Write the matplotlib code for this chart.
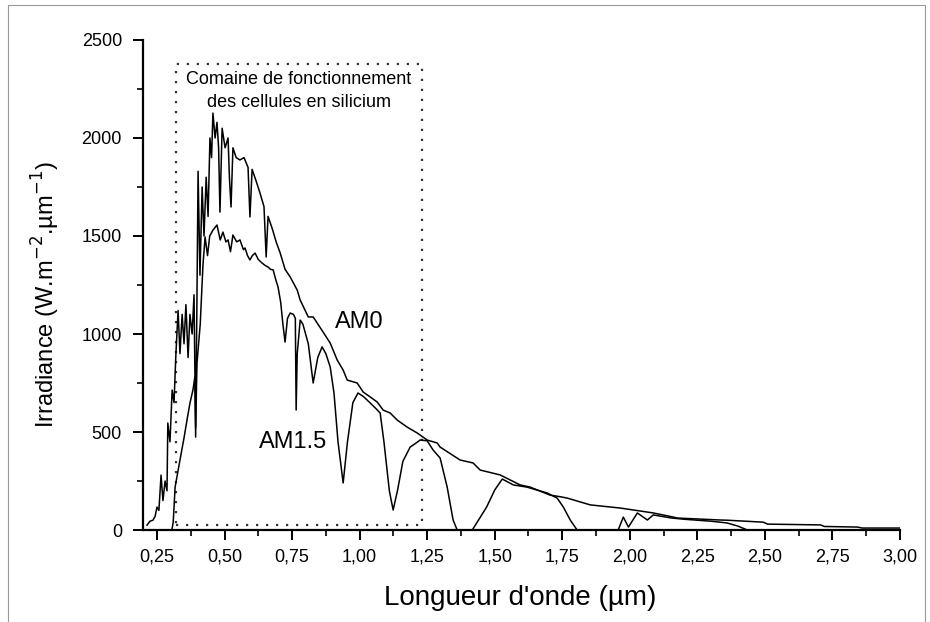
import matplotlib
matplotlib.use("Agg")
import matplotlib.pyplot as plt
from matplotlib.patches import Rectangle
from matplotlib.ticker import MultipleLocator, FuncFormatter

plt.rcParams['font.family'] = ['Liberation Sans', 'DejaVu Sans']

# AM0 spectrum (wavelength in um, irradiance in W.m-2.um-1)
am0_lam = [0.213, 0.224, 0.235, 0.243, 0.25, 0.257, 0.265, 0.272, 0.28, 0.287,
           0.29, 0.298, 0.306, 0.313, 0.32, 0.328, 0.335, 0.343, 0.35, 0.357,
           0.365, 0.372, 0.38, 0.387, 0.393, 0.398, 0.402, 0.409, 0.417, 0.424,
           0.432, 0.439, 0.446, 0.452, 0.457, 0.465, 0.472, 0.478, 0.483, 0.491,
           0.502, 0.513, 0.518, 0.524, 0.531, 0.543, 0.557, 0.572, 0.587, 0.594,
           0.602, 0.617, 0.631, 0.646, 0.654, 0.661, 0.676, 0.691, 0.706, 0.724,
           0.743, 0.769, 0.78, 0.81, 0.828, 0.86, 0.891, 0.917, 0.939, 0.954,
           0.991, 1.013, 1.039, 1.065, 1.087, 1.113, 1.139, 1.176, 1.213, 1.25,
           1.287, 1.298, 1.335, 1.372, 1.42, 1.446, 1.52, 1.594, 1.631, 1.705,
           1.742, 1.768, 1.854, 1.965, 2.087, 2.161, 2.176, 2.335, 2.36, 2.494,
           2.51, 2.706, 2.72, 2.843, 2.86, 3.0]
am0_irr = [25, 45, 50, 70, 117, 100, 280, 150, 250, 200,
           546, 450, 714, 650, 900, 1120, 900, 1100, 950, 1150,
           880, 1100, 1000, 1200, 474, 1200, 1830, 1300, 1750, 1500,
           1800, 1600, 2000, 1900, 2127, 2000, 2080, 1950, 1622, 2050,
           1950, 2000, 1800, 1648, 1950, 1900, 1888, 1900, 1850, 1597,
           1840, 1780, 1720, 1650, 1393, 1600, 1540, 1470, 1413, 1330,
           1291, 1224, 1173, 1087, 1087, 1020, 954, 867, 816, 765,
           750, 704, 679, 653, 612, 597, 561, 525, 495, 459,
           444, 423, 390, 357, 342, 306, 281, 230, 219, 178,
           170, 163, 128, 112, 87, 66, 61, 51, 50, 40,
           30, 26, 18, 15, 10, 10]

# AM1.5 spectrum
am15_lam = [0.305, 0.31, 0.317, 0.335, 0.35, 0.361, 0.372, 0.383, 0.39, 0.393,
            0.398, 0.41, 0.42, 0.428, 0.437, 0.445, 0.457, 0.472, 0.484, 0.494,
            0.505, 0.513, 0.522, 0.531, 0.545, 0.557, 0.57, 0.576, 0.585, 0.594,
            0.603, 0.613, 0.625, 0.639, 0.65, 0.661, 0.67, 0.68, 0.69, 0.698,
            0.708, 0.716, 0.724, 0.733, 0.743, 0.755, 0.762, 0.765, 0.769, 0.78,
            0.79, 0.81, 0.828, 0.845, 0.861, 0.875, 0.891, 0.905, 0.92, 0.939,
            0.955, 0.975, 0.994, 1.015, 1.039, 1.06, 1.076, 1.09, 1.11, 1.124,
            1.14, 1.16, 1.187, 1.205, 1.224, 1.25, 1.272, 1.298, 1.324, 1.346,
            1.361, 1.417, 1.47, 1.5, 1.528, 1.569, 1.619, 1.694, 1.731, 1.754,
            1.78, 1.805, 1.957, 1.976, 1.995, 2.028, 2.065, 2.087, 2.15, 2.2,
            2.3, 2.36, 2.4, 2.435, 2.5]
am15_irr = [0, 40, 219, 357, 470, 561, 648, 714, 780, 520,
            852, 1050, 1350, 1495, 1400, 1500, 1530, 1556, 1480, 1520,
            1470, 1480, 1420, 1505, 1470, 1480, 1430, 1439, 1400, 1378,
            1400, 1413, 1380, 1362, 1350, 1342, 1330, 1327, 1275, 1240,
            1160, 1050, 959, 1080, 1107, 1100, 1080, 612, 900, 1071,
            1050, 950, 750, 880, 934, 900, 832, 700, 450, 240,
            450, 650, 699, 680, 648, 620, 597, 450, 200, 102,
            200, 350, 423, 440, 459, 455, 408, 367, 219, 51,
            0, 0, 117, 204, 260, 230, 219, 189, 163, 117,
            50, 0, 0, 66, 15, 87, 51, 77, 62, 55,
            45, 36, 20, 0, 0]

xticks = [0.25, 0.50, 0.75, 1.00, 1.25, 1.50, 1.75, 2.00, 2.25, 2.50, 2.75, 3.00]
yticks = [0, 500, 1000, 1500, 2000, 2500]

fig = plt.figure(figsize=(9.30, 6.22), dpi=100)
ax = fig.add_axes([0.1543, 0.1479, 0.8134, 0.7878])

ax.plot(am0_lam, am0_irr, color='black', lw=1.1)
ax.plot(am15_lam, am15_irr, color='black', lw=1.1)

# silicon operating window
ax.add_patch(Rectangle((0.32, 28), 1.231 - 0.32, 2375 - 28, fill=False,
                       ec='#333333', lw=1.6, ls=(0, (1, 3.5))))
ax.text(0.775, 2240, "Comaine de fonctionnement\ndes cellules en silicium",
        ha='center', va='center', fontsize=13, linespacing=1.45)
ax.text(1.0, 1061, "AM0", ha='center', va='center', fontsize=17)
ax.text(0.754, 449, "AM1.5", ha='center', va='center', fontsize=17)

ax.set_xlim(0.2, 3.0)
ax.set_ylim(0, 2500)
ax.set_xticks(xticks)
ax.set_yticks(yticks)
ax.xaxis.set_minor_locator(MultipleLocator(0.125))
ax.yaxis.set_minor_locator(MultipleLocator(250))
ax.xaxis.set_major_formatter(FuncFormatter(lambda v, p: f"{v:.2f}".replace('.', ',')))
for s in ['top', 'right']:
    ax.spines[s].set_visible(False)
for s in ['left', 'bottom']:
    ax.spines[s].set_linewidth(1.6)
ax.tick_params(which='major', length=7.5, width=1.4, labelsize=13, color='black')
ax.tick_params(axis='y', which='major', pad=8)
ax.tick_params(axis='x', which='major', pad=6)
ax.tick_params(which='minor', length=4, width=1.2)

ax.set_xlabel("Longueur d'onde (µm)", fontsize=20)
ax.set_ylabel("Irradiance (W.m$^{-2}$.µm$^{-1}$)", fontsize=17)
ax.xaxis.set_label_coords(0.498, -0.112)
ax.yaxis.set_label_coords(-0.108, 0.48)

# thin frame around the picture
fig.add_artist(Rectangle((8 / 930, -0.05), (925 - 8) / 930, 1 - 5 / 622 + 0.05,
                         transform=fig.transFigure, fill=False, ec='#999999', lw=0.8))

fig.savefig("out.png", dpi=100)
